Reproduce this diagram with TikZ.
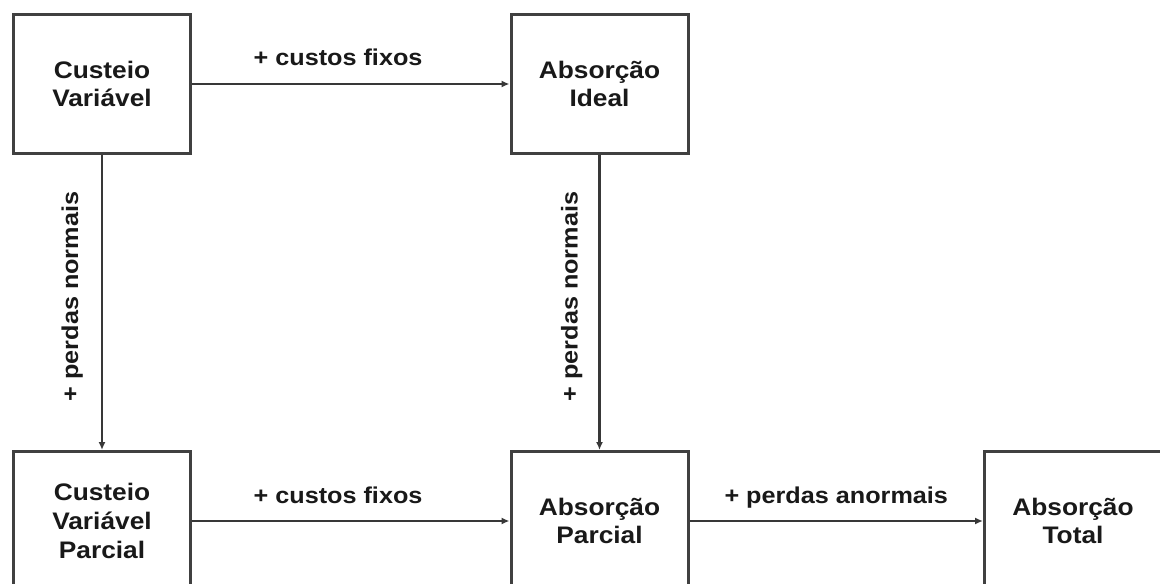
\documentclass[tikz,border=0pt]{standalone}
\usepackage{fontspec}
\setmainfont[FakeStretch=1.1]{Liberation Sans}
\usetikzlibrary{arrows.meta}

\begin{document}
\begin{tikzpicture}[x=1bp, y=-1bp,
    caixa/.style={draw=black!75, line width=3bp, fill=white, minimum width=177bp,
      minimum height=139bp, inner sep=0pt, align=center, text=black!90,
      font=\fontsize{24}{29}\selectfont\bfseries},
    seta/.style={draw=black!78, line width=2.2bp, -{Latex[length=8bp, width=7bp]}},
    rotulo/.style={font=\fontsize{23}{27}\selectfont\bfseries, text=black!90,
      anchor=base, inner sep=0pt}]
    \useasboundingbox (0,0) rectangle (1160,584);
    \clip (0,0) rectangle (1160,584);
    \fill [white] (0,0) rectangle (1160,584);

    \node [caixa] (cv)  at (102,84)    {Custeio\\Variável};
    \node [caixa] (ai)  at (599.5,84)  {Absorção\\Ideal};
    \node [caixa] (cvp) at (102,521)   {Custeio\\Variável\\Parcial};
    \node [caixa] (ap)  at (599.5,521) {Absorção\\Parcial};
    \node [caixa] (at)  at (1073,521)  {Absorção\\Total};

    \draw [seta] (cv) -- (ai) node [rotulo, pos=.46, yshift=18bp] {+ custos fixos};
    \draw [seta] (cv) -- (cvp) node [rotulo, midway, rotate=90, yshift=24bp, xshift=6bp] {+ perdas normais};
    \draw [seta] (ai) -- (ap) node [rotulo, midway, rotate=90, yshift=22bp, xshift=6bp] {+ perdas normais};
    \draw [seta] (cvp) -- (ap) node [rotulo, pos=.46, yshift=18bp] {+ custos fixos};
    \draw [seta] (ap) -- (at) node [rotulo, midway, yshift=18bp] {+ perdas anormais};
\end{tikzpicture}
\end{document}
